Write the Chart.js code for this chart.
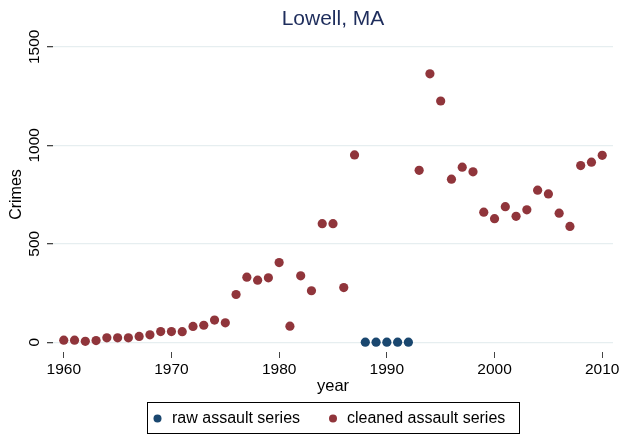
<!DOCTYPE html>
<html><head><meta charset="utf-8">
<script src="https://cdn.jsdelivr.net/npm/chart.js@4/dist/chart.umd.min.js"></script>
<style>html,body{margin:0;padding:0;background:#fff}</style>
</head><body>
<canvas id="c" width="625" height="439"></canvas>
<script>
const chartTitle = 'Lowell, MA';
const xTitle = 'year';
const yTitle = 'Crimes';
const rawLabel = 'raw assault series';
const cleanedLabel = 'cleaned assault series';
const rawYears = [1988, 1989, 1990, 1991, 1992];
const rawValues = [0, 0, 0, 0, 0];
const cleanedYears = [1960,1961,1962,1963,1964,1965,1966,1967,1968,1969,1970,1971,1972,1973,1974,1975,1976,1977,1978,1979,1980,1981,1982,1983,1984,1985,1986,1987,
  1993,1994,1995,1996,1997,1998,1999,2000,2001,2002,2003,2004,2005,2006,2007,2008,2009,2010];
const cleanedValues = [10,10,4,8,22,22,22,29,37,54,54,53,80,86,112,98,242,330,315,327,404,81,337,261,602,602,277,951,
  873,1363,1225,828,889,865,660,627,688,639,672,772,753,655,588,897,914,949];
const xTicks = [1960, 1970, 1980, 1990, 2000, 2010];
const yTicks = [0, 500, 1000, 1500];

const BLUE = '#1a476f', RED = '#90353b', NAVY = '#1e2d5c', GRID = '#e6eef0';
const FONT = '"Liberation Sans", Arial, Helvetica, sans-serif';

const pts = (xs, ys) => xs.map((x, i) => ({x: x, y: ys[i]}));

const deco = {
  id: 'deco',
  afterDraw(chart) {
    const ctx = chart.ctx, ca = chart.chartArea, ys = chart.scales.y;
    ctx.save();
    ctx.fillStyle = NAVY;
    ctx.font = '21px ' + FONT;
    ctx.textAlign = 'center'; ctx.textBaseline = 'middle';
    ctx.fillText(chartTitle, (ca.left + ca.right) / 2, 19);
    ctx.fillStyle = '#000';
    ctx.font = '15.5px ' + FONT;
    yTicks.forEach(v => {
      const py = ys.getPixelForValue(v);
      ctx.save(); ctx.translate(35, py); ctx.rotate(-Math.PI / 2);
      ctx.fillText(String(v), 0, 0); ctx.restore();
    });
    ctx.font = '16px ' + FONT;
    ctx.save(); ctx.translate(17, (ca.top + ca.bottom) / 2); ctx.rotate(-Math.PI / 2);
    ctx.fillText(yTitle, 0, 0); ctx.restore();
    ctx.font = '16.5px ' + FONT;
    ctx.fillText(xTitle, (ca.left + ca.right) / 2, 386);
    // legend
    ctx.strokeStyle = '#000'; ctx.lineWidth = 1;
    ctx.strokeRect(147.5, 402.5, 372, 31);
    ctx.font = '16px ' + FONT; ctx.textAlign = 'left';
    ctx.fillStyle = BLUE; ctx.beginPath(); ctx.arc(157.5, 418.5, 4, 0, Math.PI * 2); ctx.fill();
    ctx.fillStyle = '#000'; ctx.fillText(rawLabel, 172, 419);
    ctx.fillStyle = RED; ctx.beginPath(); ctx.arc(333, 418.5, 4, 0, Math.PI * 2); ctx.fill();
    ctx.fillStyle = '#000'; ctx.fillText(cleanedLabel, 347, 419);
    ctx.restore();
  }
};

new Chart(document.getElementById('c'), {
  type: 'scatter',
  data: {
    datasets: [
      {label: rawLabel, data: pts(rawYears, rawValues), backgroundColor: BLUE, borderColor: BLUE, pointRadius: 4.6, borderWidth: 0},
      {label: cleanedLabel, data: pts(cleanedYears, cleanedValues), backgroundColor: RED, borderColor: RED, pointRadius: 4.6, borderWidth: 0}
    ]
  },
  options: {
    responsive: false, animation: false, devicePixelRatio: 1,
    layout: {padding: {top: 37, right: 12, left: 0, bottom: 0}},
    plugins: {legend: {display: false}, title: {display: false}, tooltip: {enabled: false}},
    scales: {
      x: {
        type: 'linear', min: 1959, max: 2011,
        afterBuildTicks: s => { s.ticks = xTicks.map(v => ({value: v})); },
        afterFit: s => { s.height = 87; },
        border: {display: false},
        grid: {drawOnChartArea: false, drawTicks: true, tickLength: 6, tickColor: '#444', lineWidth: 1},
        ticks: {color: '#000', font: {family: FONT, size: 15.5}, padding: 2, maxRotation: 0, callback: v => String(v)}
      },
      y: {
        type: 'linear', min: -50, max: 1550,
        afterBuildTicks: s => { s.ticks = yTicks.map(v => ({value: v})); },
        afterFit: s => { s.width = 53; },
        border: {display: false},
        grid: {color: GRID, lineWidth: 1.3, drawTicks: true, tickLength: 6, tickColor: '#444'},
        ticks: {display: false}
      }
    }
  },
  plugins: [deco]
});
</script>
</body></html>
